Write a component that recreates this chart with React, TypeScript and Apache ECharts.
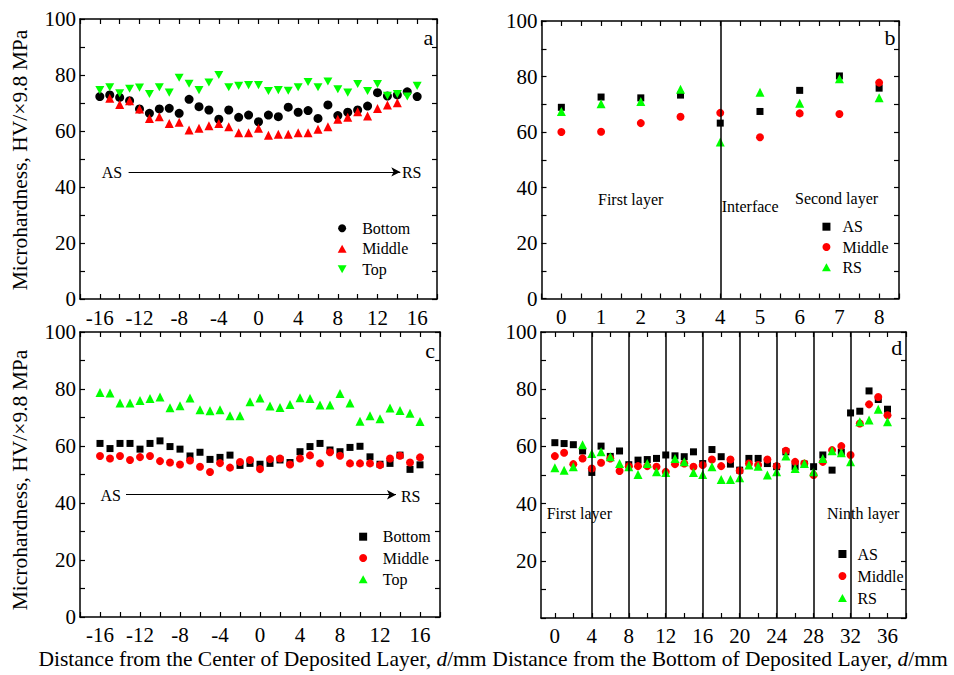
import React, { useEffect, useRef } from 'react';
import * as echarts from 'echarts';

// ---------- Panel a: distance from centre, first layer ----------
const aX = [-16, -15, -14, -13, -12, -11, -10, -9, -8, -7, -6, -5, -4, -3, -2, -1, 0, 1, 2, 3, 4, 5, 6, 7, 8, 9, 10, 11, 12, 13, 14, 15, 16];
const aBottom = [72.3, 72.9, 72.0, 70.8, 67.9, 66.3, 67.9, 68.1, 66.3, 71.3, 68.7, 67.5, 64.2, 67.5, 64.9, 65.7, 63.3, 65.7, 65.1, 68.5, 66.7, 67.3, 64.5, 69.3, 65.5, 66.7, 67.5, 68.9, 73.7, 72.5, 72.9, 74.0, 72.3];
const aMiddleX = [-15, -14, -13, -12, -11, -10, -9, -8, -7, -6, -5, -4, -3, -2, -1, 0, 1, 2, 3, 4, 5, 6, 7, 8, 9, 10, 11, 12, 13, 14];
const aMiddle = [71.7, 69.5, 70.8, 67.9, 64.5, 65.1, 62.7, 63.1, 60.4, 61.0, 61.9, 62.7, 61.5, 59.4, 59.4, 61.0, 58.5, 58.8, 58.8, 59.4, 59.4, 60.6, 61.5, 64.2, 64.9, 66.9, 65.4, 68.0, 69.3, 70.1];
const aTop = [74.6, 75.6, 73.5, 75.1, 75.5, 73.2, 75.6, 73.7, 79.0, 76.9, 74.6, 77.3, 80.0, 75.6, 76.1, 76.4, 76.4, 74.3, 74.6, 74.4, 75.6, 77.5, 75.6, 77.7, 74.9, 73.7, 76.8, 74.3, 76.8, 72.6, 73.2, 72.3, 76.1];

// ---------- Panel b: two layers ----------
const bX = [0, 1, 2, 3, 4, 5, 6, 7, 8];
const bAS = [68.9, 72.6, 72.3, 73.3, 63.2, 67.4, 75.0, 80.2, 75.8];
const bMiddle = [60.0, 60.1, 63.2, 65.5, 66.9, 58.1, 66.7, 66.5, 77.8];
const bRS = [67.4, 70.2, 71.0, 75.4, 56.4, 74.3, 70.4, 79.2, 72.3];
const bInterface = [4];

// ---------- Panel c: distance from centre, multi-layer ----------
const cX = [-16, -15, -14, -13, -12, -11, -10, -9, -8, -7, -6, -5, -4, -3, -2, -1, 0, 1, 2, 3, 4, 5, 6, 7, 8, 9, 10, 11, 12, 13, 14, 15, 16];
const cBottom = [60.9, 59.1, 60.9, 60.9, 58.9, 60.9, 61.8, 59.8, 58.9, 56.5, 57.8, 55.3, 56.0, 56.8, 53.2, 53.9, 53.6, 53.9, 55.1, 54.2, 58.0, 59.8, 60.9, 58.6, 58.0, 59.5, 59.9, 56.2, 53.6, 53.9, 56.8, 51.8, 53.4];
const cMiddle = [56.5, 55.6, 56.5, 55.1, 56.1, 56.5, 54.7, 54.2, 53.5, 54.9, 52.7, 50.9, 54.0, 52.4, 54.4, 55.1, 51.9, 55.4, 55.6, 53.5, 55.6, 56.7, 53.9, 57.8, 56.6, 53.9, 53.9, 53.9, 53.3, 55.6, 56.6, 54.2, 56.0];
const cTop = [78.8, 78.6, 75.1, 75.1, 76.0, 76.7, 77.2, 73.4, 74.1, 76.8, 72.7, 72.4, 72.7, 70.6, 70.6, 75.5, 76.8, 74.0, 73.5, 74.6, 76.9, 76.7, 74.4, 74.4, 78.4, 75.1, 68.7, 70.6, 69.6, 73.3, 72.5, 71.5, 68.6];

// ---------- Panel d: distance from bottom, nine layers ----------
const dX = [0, 1, 2, 3, 4, 5, 6, 7, 8, 9, 10, 11, 12, 13, 14, 15, 16, 17, 18, 19, 20, 21, 22, 23, 24, 25, 26, 27, 28, 29, 30, 31, 32, 33, 34, 35, 36];
const dAS = [61.3, 61.0, 60.6, 58.4, 50.9, 60.1, 56.5, 58.4, 53.6, 55.2, 55.4, 55.8, 57.0, 56.7, 56.4, 58.1, 54.0, 58.9, 56.4, 53.8, 51.7, 55.8, 55.8, 54.0, 52.9, 58.1, 52.9, 53.8, 52.9, 57.0, 51.7, 58.0, 71.7, 72.3, 79.4, 76.4, 73.0];
const dMiddle = [56.6, 57.8, 53.8, 55.8, 52.3, 54.3, 55.8, 51.4, 53.1, 53.1, 53.1, 52.9, 51.1, 53.8, 54.0, 52.9, 53.5, 55.4, 53.1, 55.4, 51.5, 54.0, 53.5, 55.4, 53.1, 58.5, 54.6, 54.0, 50.0, 54.6, 58.7, 60.1, 57.0, 68.0, 74.7, 77.3, 70.9];
const dRS = [52.5, 51.7, 52.9, 60.6, 57.5, 58.1, 56.4, 54.0, 52.9, 50.2, 54.0, 51.1, 50.9, 55.8, 54.6, 50.9, 50.2, 52.9, 48.4, 48.4, 49.0, 53.5, 53.1, 50.0, 51.1, 56.6, 52.3, 54.0, 51.1, 55.8, 58.5, 57.8, 54.6, 68.6, 69.2, 73.0, 68.6];
const dLayerLines = [4, 8, 12, 16, 20, 24, 28, 32];
const dTickValues = [0, 2, 4, 6, 8, 10, 12, 14, 16, 18, 20, 22, 24, 26, 28, 30, 32, 34, 36, 38];
const dLabelValues = [0, 4, 8, 12, 16, 20, 24, 28, 32, 36];

const FONT = '"Liberation Serif", "Times New Roman", serif';
const BLACK = '#000000';
const RED = '#ff0000';
const GREEN = '#00ff00';
const DOWN_TRI = 'path://M0,0L10,0L5,9Z';
const UP_TRI = 'path://M5,0L10,9L0,9Z';
const SQUARE = 'path://M0,0L10,0L10,10L0,10Z';
const LEGEND_ICON = 8;

function axisStyle(show: boolean, formatter: any, margin: number, extraTick: any = {}, extraLabel: any = {}) {
  return {
    axisLine: { show: true, onZero: false, lineStyle: { color: BLACK, width: 1.5 } },
    axisTick: { show: true, inside: true, length: 5, lineStyle: { color: BLACK, width: 1.2 }, ...extraTick },
    splitLine: { show: false },
    axisLabel: { show, formatter, fontFamily: FONT, fontSize: 21, color: BLACK, margin, ...extraLabel },
  };
}

function xPair(gi: number, min: number, max: number, interval: number | undefined, fmt: any, margin: number, tick: any = {}, label: any = {}) {
  const base: any = { type: 'value', gridIndex: gi, min, max };
  if (interval !== undefined) base.interval = interval;
  return [
    { ...base, position: 'bottom', ...axisStyle(true, fmt, margin, tick, label) },
    { ...base, position: 'top', ...axisStyle(false, fmt, margin, tick, label) },
  ];
}

function yPair(gi: number, fmt: any) {
  const base: any = { type: 'value', gridIndex: gi, min: 0, max: 100, interval: 10 };
  return [
    { ...base, position: 'left', ...axisStyle(true, fmt, 4) },
    { ...base, position: 'right', ...axisStyle(false, fmt, 4) },
  ];
}

function sc(name: string, xs: number[], ys: number[], gi: number, symbol: string, size: number | number[], color: string, extra: any = {}) {
  return {
    type: 'scatter',
    name,
    xAxisIndex: gi * 2,
    yAxisIndex: gi * 2,
    data: xs.map((x, i) => [x, ys[i]]),
    symbol,
    symbolSize: size,
    symbolKeepAspect: true,
    itemStyle: { color, opacity: 1 },
    silent: true,
    ...extra,
  };
}

// symbolCenterX: wanted x of the icon centre; textGap: distance from icon centre to text start
function legendBox(symbolCenterX: number, top: number, gap: number, textGap: number, data: any[]) {
  const itemWidth = 2 * (textGap - 5);
  return {
    orient: 'vertical',
    left: symbolCenterX - LEGEND_ICON / 2,
    top,
    padding: 0,
    itemGap: gap,
    itemWidth,
    itemHeight: LEGEND_ICON,
    symbolRotate: 0,
    symbolKeepAspect: true,
    selectedMode: false,
    textStyle: { fontFamily: FONT, fontSize: 16, color: BLACK },
    data: data.map((d) => ({ ...d, symbolKeepAspect: true })),
  };
}

function txt(x: number, y: number, text: string, size: number, align = 'left', rotation = 0, rich?: any) {
  return {
    type: 'text',
    x,
    y,
    rotation,
    silent: true,
    style: {
      text,
      fill: BLACK,
      font: `${size}px ${FONT}`,
      fontFamily: FONT,
      fontSize: size,
      textAlign: align,
      textVerticalAlign: 'middle',
      rich,
    },
  };
}

function buildOption() {
  const y20 = (v: number) => (v % 20 === 0 ? String(v) : '');
  const y20no0 = (v: number) => (v !== 0 && v % 20 === 0 ? String(v) : '');
  const x4 = (v: number) => (Math.abs(v % 4) < 1e-9 ? String(v) : '');
  const xInt = (v: number) => (Number.isInteger(v) ? String(v) : '');
  const lineStyle = { color: BLACK, width: 1.5, type: 'solid' };
  const titleRich = {
    n: { fontFamily: FONT, fontSize: 21.5, fill: BLACK, color: BLACK },
    i: { fontFamily: FONT, fontSize: 21.5, fontStyle: 'italic', fill: BLACK, color: BLACK },
  };

  return {
    animation: false,
    backgroundColor: '#ffffff',
    grid: [
      { left: 80, top: 19, width: 357, height: 280 },
      { left: 541.5, top: 21, width: 357.5, height: 277.5 },
      { left: 80, top: 332, width: 360, height: 285 },
      { left: 541, top: 332, width: 365, height: 286 },
    ],
    xAxis: [
      ...xPair(0, -18, 18, 2, x4, 8),
      ...xPair(1, -0.5, 8.5, 0.5, xInt, 8),
      ...xPair(2, -18, 18, 2, x4, 7),
      ...xPair(3, -1.5, 38, undefined, (v: number) => String(v), 7, { customValues: dTickValues }, { customValues: dLabelValues }),
    ],
    yAxis: [...yPair(0, y20), ...yPair(1, y20), ...yPair(2, y20), ...yPair(3, y20no0)],
    legend: [
      legendBox(341.7, 220.3, 4.5, 20, [
        { name: 'Bottom', icon: 'circle', itemStyle: { color: BLACK } },
        { name: 'Middle', icon: UP_TRI, itemStyle: { color: RED } },
        { name: 'Top', icon: DOWN_TRI, itemStyle: { color: GREEN } },
      ]),
      legendBox(826, 218.7, 4.3, 16, [
        { name: 'AS', icon: SQUARE, itemStyle: { color: BLACK } },
        { name: 'Middle', icon: 'circle', itemStyle: { color: RED } },
        { name: 'RS', icon: UP_TRI, itemStyle: { color: GREEN } },
      ]),
      legendBox(362.7, 528.7, 5.3, 19.6, [
        { name: 'Bottom', icon: SQUARE, itemStyle: { color: BLACK } },
        { name: 'Middle', icon: 'circle', itemStyle: { color: RED } },
        { name: 'Top', icon: UP_TRI, itemStyle: { color: GREEN } },
      ]),
      legendBox(842, 546, 6, 15, [
        { name: 'AS', icon: SQUARE, itemStyle: { color: BLACK } },
        { name: 'Middle', icon: 'circle', itemStyle: { color: RED } },
        { name: 'RS', icon: UP_TRI, itemStyle: { color: GREEN } },
      ]),
    ],
    series: [
      sc('Bottom', aX, aBottom, 0, 'circle', 9, BLACK, {
        markLine: {
          silent: true,
          symbol: ['none', 'arrow'],
          symbolSize: [7, 9],
          label: { show: false },
          lineStyle: { color: BLACK, width: 1.2, type: 'solid' },
          data: [[{ coord: [-13.1, 45.4] }, { coord: [14.3, 45.4] }]],
        },
      }),
      sc('Middle', aMiddleX, aMiddle, 0, 'triangle', 9, RED),
      sc('Top', aX, aTop, 0, DOWN_TRI, 9, GREEN),

      sc('AS', bX, bAS, 1, 'rect', 7, BLACK, {
        markLine: { silent: true, symbol: 'none', label: { show: false }, lineStyle, data: bInterface.map((x) => ({ xAxis: x })) },
      }),
      sc('Middle', bX, bMiddle, 1, 'circle', 8, RED),
      sc('RS', bX, bRS, 1, 'triangle', 9, GREEN),

      sc('Bottom', cX, cBottom, 2, 'rect', 7, BLACK, {
        markLine: {
          silent: true,
          symbol: ['none', 'arrow'],
          symbolSize: [7, 9],
          label: { show: false },
          lineStyle: { color: BLACK, width: 1.2, type: 'solid' },
          data: [[{ coord: [-13.4, 42.9] }, { coord: [13.6, 42.9] }]],
        },
      }),
      sc('Middle', cX, cMiddle, 2, 'circle', 8, RED),
      sc('Top', cX, cTop, 2, 'triangle', 9, GREEN),

      sc('AS', dX, dAS, 3, 'rect', 7, BLACK, {
        markLine: { silent: true, symbol: 'none', label: { show: false }, lineStyle, data: dLayerLines.map((x) => ({ xAxis: x })) },
      }),
      sc('Middle', dX, dMiddle, 3, 'circle', 8, RED),
      sc('RS', dX, dRS, 3, 'triangle', 9, GREEN),
    ],
    graphic: [
      txt(20, 160, 'Microhardness, HV/×9.8 MPa', 21.5, 'center', Math.PI / 2),
      txt(20, 480, 'Microhardness, HV/×9.8 MPa', 21.5, 'center', Math.PI / 2),
      txt(262.5, 659, '{n|Distance from the Center of Deposited Layer, }{i|d}{n|/mm}', 21.5, 'center', 0, titleRich),
      txt(720, 659, '{n|Distance from the Bottom of Deposited Layer, }{i|d}{n|/mm}', 21.5, 'center', 0, titleRich),
      txt(428.3, 37, 'a', 22, 'center'),
      txt(890, 37, 'b', 22, 'center'),
      txt(430, 350, 'c', 22, 'center'),
      txt(896.7, 347, 'd', 22, 'center'),
      txt(112, 172, 'AS', 16, 'center'),
      txt(411.7, 172, 'RS', 16, 'center'),
      txt(110.7, 495.5, 'AS', 16, 'center'),
      txt(410.7, 496, 'RS', 16, 'center'),
      txt(598, 199, 'First layer', 16, 'left'),
      txt(721.7, 206, 'Interface', 16, 'left'),
      txt(795, 198, 'Second layer', 16, 'left'),
      txt(546.7, 513, 'First layer', 16, 'left'),
      txt(827, 513, 'Ninth layer', 16, 'left'),
    ],
  };
}

export default function App() {
  const ref = useRef<HTMLDivElement>(null);
  useEffect(() => {
    document.body.style.margin = '0';
    const chart = echarts.init(ref.current as HTMLDivElement, null, { renderer: 'svg' });
    chart.setOption(buildOption() as any);
    return () => chart.dispose();
  }, []);
  return <div ref={ref} style={{ width: 954, height: 675, background: '#ffffff' }} />;
}
